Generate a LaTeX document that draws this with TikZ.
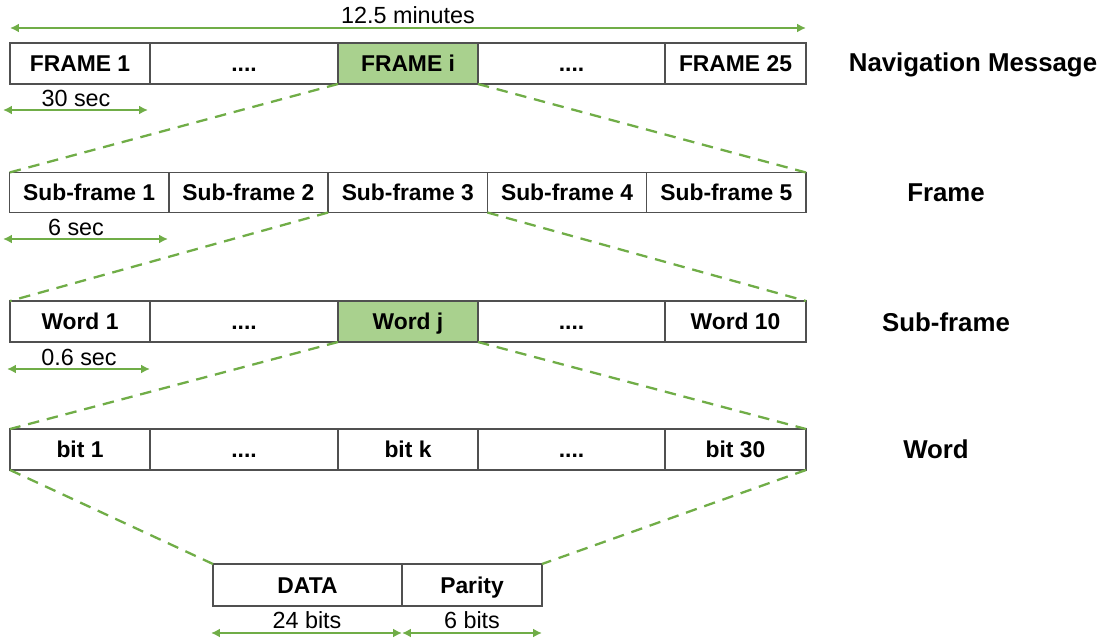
\documentclass[tikz,border=0pt]{standalone}
\usepackage{fontspec}
\setmainfont{Liberation Sans}
\usetikzlibrary{arrows.meta}
\definecolor{cellgreen}{RGB}{169,209,142}
\definecolor{linegreen}{RGB}{112,173,71}
\definecolor{edgegray}{RGB}{80,80,80}
\tikzset{
    cell/.style={draw=edgegray, line width=0.8pt, inner sep=0pt, outer sep=0pt,
        minimum height=0.82cm, text height=9.3pt, text depth=0pt,
        font=\fontsize{13}{15}\selectfont\bfseries},
    hilite/.style={cell, fill=cellgreen},
    zoomline/.style={linegreen, line width=1.3pt, dash pattern=on 6.5pt off 4.5pt},
    span/.style={linegreen, line width=1.1pt, {Latex[length=5pt,width=5pt]}-{Latex[length=5pt,width=5pt]}},
    spanlabel/.style={font=\fontsize{13.3}{15}\selectfont, inner sep=0pt},
    levelname/.style={font=\fontsize{14.7}{17}\selectfont\bfseries, inner sep=0pt}
}

\begin{document}
\begin{tikzpicture}[x=0.02cm, y=-0.02cm]
        \useasboundingbox (0,0) rectangle (1112,643);
        % navigation message
        \node[cell, minimum width=2.8cm] (f1) at (80,63.5) {FRAME 1};
        \node[cell, minimum width=3.76cm] (f2) at (244,63.5) {....};
        \node[hilite, minimum width=2.8cm] (fi) at (408,63.5) {FRAME i};
        \node[cell, minimum width=3.74cm] (f4) at (571.5,63.5) {....};
        \node[cell, minimum width=2.82cm] (f25) at (735.5,63.5) {FRAME 25};
        % frame
        \foreach \i in {1,...,5}
            \node[cell, minimum width=3.186cm, minimum height=0.8cm] (s\i) at ({9.5+159.3*(\i-0.5)},192.5) {Sub-frame \i};
        % sub-frame
        \node[cell, minimum width=2.8cm] (w1) at (80,321.5) {Word 1};
        \node[cell, minimum width=3.76cm] (w2) at (244,321.5) {....};
        \node[hilite, minimum width=2.8cm] (wj) at (408,321.5) {Word j};
        \node[cell, minimum width=3.74cm] (w4) at (571.5,321.5) {....};
        \node[cell, minimum width=2.82cm] (w5) at (735.5,321.5) {Word 10};
        % word
        \node[cell, minimum width=2.8cm] (b1) at (80,449.5) {bit 1};
        \node[cell, minimum width=3.76cm] (b2) at (244,449.5) {....};
        \node[cell, minimum width=2.8cm] (bk) at (408,449.5) {bit k};
        \node[cell, minimum width=3.74cm] (b4) at (571.5,449.5) {....};
        \node[cell, minimum width=2.82cm] (b5) at (735.5,449.5) {bit 30};
        % data and parity
        \node[cell, minimum width=3.78cm, minimum height=0.84cm] (data) at (307.5,585) {DATA};
        \node[cell, minimum width=2.8cm, minimum height=0.84cm] (parity) at (472,585) {Parity};

        % zoom lines
        \draw [zoomline] (fi.south west) -- (s1.north west);
        \draw [zoomline] (fi.south east) -- (s5.north east);
        \draw [zoomline] (s3.south west) -- (w1.north west);
        \draw [zoomline] (s3.south east) -- (w5.north east);
        \draw [zoomline] (wj.south west) -- (b1.north west);
        \draw [zoomline] (wj.south east) -- (b5.north east);
        \draw [zoomline] (b1.south west) -- (data.north west);
        \draw [zoomline] (b5.south east) -- (parity.north east);

        % durations
        \coordinate (t0) at (10,28);
        \coordinate (t1) at (806,28);
        \draw [span] (t0) -- (t1);
        \node[spanlabel] (ttot) at (408,15) {12.5 minutes};
        \coordinate (fa) at (3,110);
        \coordinate (fb) at (148,110);
        \draw [span] (fa) -- (fb);
        \node[spanlabel] (tf) at (76,98.5) {30 sec};
        \coordinate (sa) at (3,239);
        \coordinate (sb) at (168,239);
        \draw [span] (sa) -- (sb);
        \node[spanlabel] (ts) at (76,227) {6 sec};
        \coordinate (wa) at (7,369);
        \coordinate (wb) at (150,369);
        \draw [span] (wa) -- (wb);
        \node[spanlabel] (tw) at (79,357) {0.6 sec};
        \coordinate (da) at (211,633);
        \coordinate (db) at (402,633);
        \coordinate (pb) at (542,633);
        \draw [span] (da) -- (db);
        \draw [span] (db) -- (pb);
        \node[spanlabel] (tdata) at (307,620) {24 bits};
        \node[spanlabel] (tpar) at (472,620) {6 bits};

        % level names
        \node[levelname] (lnav) at (973,65) {Navigation Message};
        \node[levelname] (lframe) at (946,193) {Frame};
        \node[levelname] (lsub) at (946,322) {Sub-frame};
        \node[levelname] (lword) at (936,449) {Word};
    \end{tikzpicture}
\end{document}
